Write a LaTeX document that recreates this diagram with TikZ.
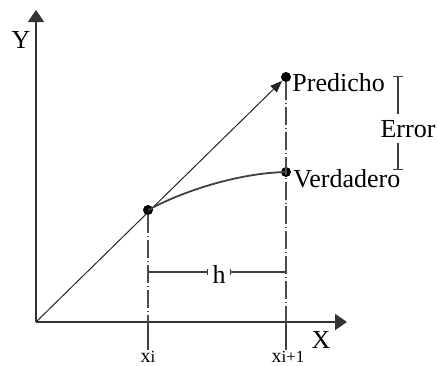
\documentclass[tikz,border=0pt]{standalone}
\usepackage{fontspec}
\setmainfont{Liberation Serif}
\usetikzlibrary{arrows.meta,positioning}

\begin{document}
\begin{tikzpicture}[>=Triangle,x=0.5pt,y=-0.5pt]
\tikzset{lbl/.style={font=\fontsize{13}{15}\selectfont,inner sep=0pt},xl/.style={font=\fontsize{10}{12}\selectfont,inner sep=0pt,anchor=base},pt/.style={circle,fill=black,inner sep=0pt,minimum size=5pt},ax/.style={draw=black!80,line width=1pt,-{Triangle[length=6pt,width=8pt]}},dd/.style={draw=black!70,line width=0.7pt,dash pattern=on 9pt off 1.5pt on 0.4pt off 1.5pt},br/.style={draw=black!75,line width=0.7pt}}
\useasboundingbox (0,0) rectangle (438,365);
\coordinate (o) at (36,322); \coordinate (ytip) at (36,10); \coordinate (xtip) at (347,322);
\node[pt] (xi) at (148,210) {}; \node[pt] (pred) at (286,77) {}; \node[pt] (verd) at (286,172) {};
\node[lbl] (ylab) at (21,40) {Y}; \node[lbl] (xlab) at (321,340) {X};
\node[lbl,anchor=base west] (tpred) at (292,91) {Predicho}; \node[lbl,anchor=base west] (tverd) at (293,187) {Verdadero};
\node[xl] (xil) at (148,362) {x{\fontsize{8.5}{10}\selectfont i}}; \node[xl] (xil1) at (288,362) {x{\fontsize{8.5}{10}\selectfont i+1}};
% axes and lines
\draw[ax] (o) -- (ytip); \draw[ax] (o) -- (xtip);
\draw[black!85,line width=0.5pt,-{Triangle[length=6pt,width=4.5pt]}] (o) -- (pred);
\draw[black!75,line width=0.9pt] (xi.center) .. controls (185,190) and (240,173) .. (verd.center);
\draw[dd] (xi) -- (xi|-o); \draw[dd] (pred) -- (pred|-o);
\draw[br] (xi|-o) -- (xil.north); \draw[br] (pred|-o) -- (pred|-xil1.north);
% h
\coordinate (hl) at (148,272); \coordinate (hr) at (286,272);
\node[lbl,inner xsep=2pt,anchor=base] (h) at (219,283) {h};
\draw[br,-{Bar[width=3pt]}] (hl) -- (hl-|h.west); \draw[br,-{Bar[width=3pt]}] (hr) -- (hr-|h.east);
% error
\coordinate (et) at (398,76); \coordinate (eb) at (398,170);
\draw[br,{Bar[width=5pt]}-{Bar[width=5pt]}] (et) -- (eb);
\node[lbl,fill=white,inner ysep=3pt,anchor=base] (err) at (408,137) {Error};
\end{tikzpicture}
\end{document}
